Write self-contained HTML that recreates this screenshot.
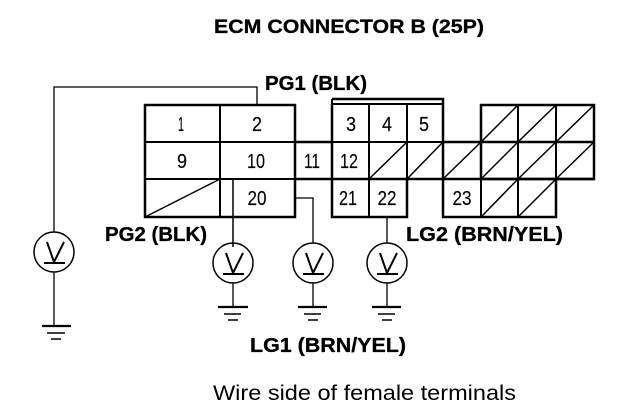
<!DOCTYPE html>
<html>
<head>
<meta charset="utf-8">
<style>
html,body{margin:0;padding:0;background:#fff}
svg{display:block}
text{font-family:"Liberation Sans",sans-serif;fill:#000}
.b{font-weight:bold;font-size:20px;stroke:#000;stroke-width:.3px}
.t{font-weight:bold;font-size:19px;stroke:#000;stroke-width:.3px}
.n{font-size:20px;text-anchor:middle;stroke:#000;stroke-width:.15px}
</style>
</head>
<body>
<svg width="640" height="420" viewBox="0 0 640 420" xmlns="http://www.w3.org/2000/svg">
<rect width="640" height="420" fill="#fff"/>
<g fill="none" stroke="#000" stroke-width="2">
  <!-- left block -->
  <rect x="145" y="105" width="150" height="112" stroke-width="2.5"/>
  <path d="M220 105V217M145 142H295M145 179H295"/>
  <path d="M145 217L220 179" stroke-width="1.5"/>
  <path d="M233 179V247" stroke-width="1.5"/>
  <!-- joins -->
  <path d="M295 142H332M295 179H594" stroke-width="2.5"/>
  <path d="M443 142H594" stroke-width="2.5"/>
  <!-- middle block -->
  <path d="M332 104V217H407V179" stroke-width="2.5"/>
  <path d="M332 99H443V179" stroke-width="2.5"/>
  <path d="M332 99V105M332 104H443" stroke-width="2"/>
  <path d="M369 104V217M407 104V179M332 142H443"/>
  <path d="M369 179L407 142M407 179L443 142M443 179L481 142" stroke-width="1.5"/>
  <!-- lower right -->
  <path d="M443 179V217H556V179" stroke-width="2.5"/>
  <path d="M481 179V217M518 179V217"/>
  <path d="M481 217L518 179M518 217L556 179" stroke-width="1.5"/>
  <!-- upper right -->
  <rect x="481" y="105" width="113" height="74" stroke-width="2.5"/>
  <path d="M518 105V179M556 105V179"/>
  <path d="M481 142L518 105M518 142L556 105M556 142L594 105M481 179L518 142M518 179L556 142M556 179L594 142" stroke-width="1.5"/>
  <!-- wires -->
  <g stroke-width="1.3">
    <path d="M54 232V87H257V105"/>
    <path d="M295 198H313V243"/>
    <path d="M387 217V243"/>
    <path d="M54 272V326"/>
    <path d="M233 283V307M313 283V307M387 283V307"/>
  </g>
  <!-- meters -->
  <g stroke-width="1.5">
    <circle cx="54" cy="252" r="20"/>
    <circle cx="233" cy="263" r="20"/>
    <circle cx="313" cy="263" r="20"/>
    <circle cx="387" cy="263" r="20"/>
  </g>
  <g stroke-width="2">
    <path d="M47 242L54 262L64 242M44 263H65"/>
    <path d="M226 253L233 273L243 253M223 274H244"/>
    <path d="M306 253L313 273L323 253M303 274H324"/>
    <path d="M380 253L387 273L397 253M377 274H398"/>
  </g>
  <!-- grounds -->
  <g stroke-width="2.2">
    <path d="M218 307H248"/>
    <path d="M298 307H327"/>
    <path d="M372 307H401"/>
    <path d="M42 326H71"/>
  </g>
  <g stroke-width="1.5">
    <path d="M224 314H241M228 320H238"/>
    <path d="M304 314H321M308 320H318"/>
    <path d="M378 314H395M382 320H392"/>
    <path d="M47 333H65M51 339H61"/>
  </g>
</g>
<!-- cell numbers -->
<text class="n" x="181" y="131" textLength="6" lengthAdjust="spacingAndGlyphs">1</text>
<text class="n" x="257" y="131" textLength="10" lengthAdjust="spacingAndGlyphs">2</text>
<text class="n" x="351" y="131" textLength="10" lengthAdjust="spacingAndGlyphs">3</text>
<text class="n" x="387" y="131" textLength="10" lengthAdjust="spacingAndGlyphs">4</text>
<text class="n" x="424" y="131" textLength="10" lengthAdjust="spacingAndGlyphs">5</text>
<text class="n" x="182" y="168" textLength="10" lengthAdjust="spacingAndGlyphs">9</text>
<text class="n" x="256" y="168" textLength="18" lengthAdjust="spacingAndGlyphs">10</text>
<text class="n" x="312" y="168" textLength="16" lengthAdjust="spacingAndGlyphs">11</text>
<text class="n" x="349" y="168" textLength="18" lengthAdjust="spacingAndGlyphs">12</text>
<text class="n" x="257" y="205" textLength="19" lengthAdjust="spacingAndGlyphs">20</text>
<text class="n" x="348" y="205" textLength="18" lengthAdjust="spacingAndGlyphs">21</text>
<text class="n" x="387" y="205" textLength="19" lengthAdjust="spacingAndGlyphs">22</text>
<text class="n" x="462" y="205" textLength="19" lengthAdjust="spacingAndGlyphs">23</text>
<!-- labels -->
<text class="t" x="214" y="33" textLength="270" lengthAdjust="spacingAndGlyphs">ECM CONNECTOR B (25P)</text>
<text class="b" x="265" y="90" textLength="102" lengthAdjust="spacingAndGlyphs">PG1 (BLK)</text>
<text class="b" x="105" y="241" textLength="102" lengthAdjust="spacingAndGlyphs">PG2 (BLK)</text>
<text class="b" x="406" y="241" textLength="157" lengthAdjust="spacingAndGlyphs">LG2 (BRN/YEL)</text>
<text class="b" x="250" y="352" textLength="156" lengthAdjust="spacingAndGlyphs">LG1 (BRN/YEL)</text>
<text x="213" y="400" font-size="21" textLength="303" lengthAdjust="spacingAndGlyphs">Wire side of female terminals</text>
</svg>
</body>
</html>
